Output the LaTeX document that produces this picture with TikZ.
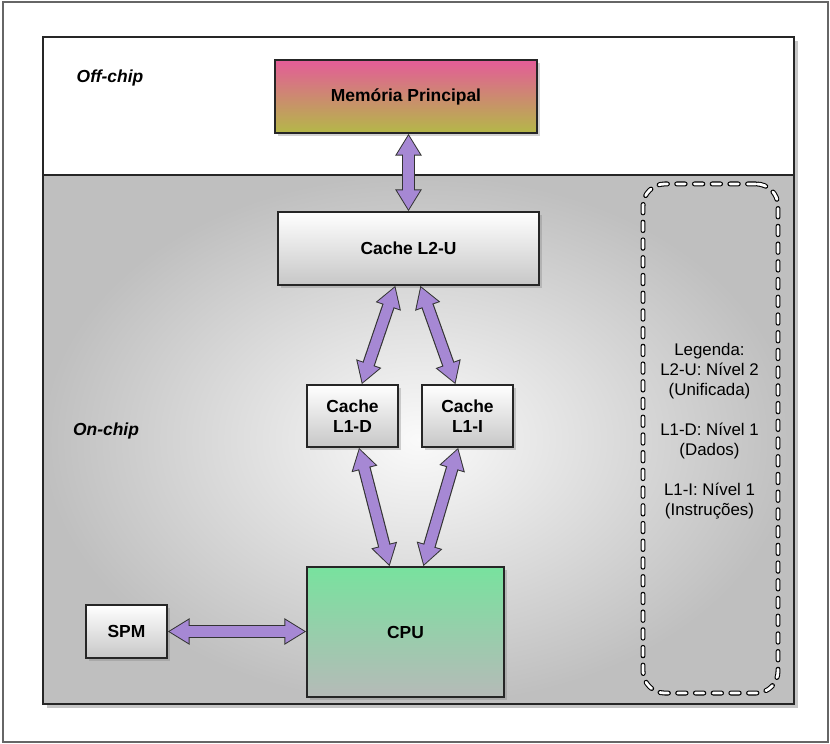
\documentclass[tikz,border=0pt]{standalone}
\usepackage{fontspec}
\setmainfont{Liberation Sans}
\usetikzlibrary{calc,shadows,arrows.meta}

\definecolor{busfill}{RGB}{166,136,212}
\definecolor{memtop}{RGB}{228,92,152}
\definecolor{membot}{RGB}{180,184,72}
\definecolor{cputop}{RGB}{120,226,158}
\definecolor{cpubot}{RGB}{182,186,184}

\begin{document}
\begin{tikzpicture}[x=0.025cm, y=-0.025cm,
    region/.style={draw=black!85, line width=1pt,
        drop shadow={opacity=0.45, shadow xshift=2.5pt, shadow yshift=-2.5pt}},
    unit/.style={draw=black!85, line width=0.9pt, align=center, inner sep=0pt,
        font=\bfseries\fontsize{12.4}{14.2}\selectfont,
        drop shadow={opacity=0.35, shadow xshift=2pt, shadow yshift=-2pt}},
    cache/.style={unit, top color=white, bottom color=black!22},
    tag/.style={font=\bfseries\itshape\fontsize{12.4}{14}\selectfont},
    bus/.style={line width=7.4pt, draw=busfill, shorten <=1.3pt, shorten >=1.3pt,
        {Triangle[width=15.4pt,length=13.6pt]}-{Triangle[width=15.4pt,length=13.6pt]},
        preaction={draw=black!80, line width=9pt, shorten <=0pt, shorten >=0pt,
        {Triangle[width=17.8pt,length=15.6pt]}-{Triangle[width=17.8pt,length=15.6pt]}}}]

\useasboundingbox (0,0) rectangle (830,744);
\draw[black!60, line width=0.8pt] (3,2) rectangle (828,742);

% chip regions
\draw[region, fill=white] (43,37) rectangle (794,175);
\draw[region, inner color=black!2, outer color=black!25] (43,175) rectangle (794,704);
\node[tag] (offchip) at (110,78) {Off-chip};
\node[tag] (onchip) at (106,431) {On-chip};

% memories and cpu
\node[unit, top color=memtop, bottom color=membot, minimum width=6.55cm, minimum height=1.825cm]
    (mem) at (406,96.5) {Memória Principal};
\node[cache, minimum width=6.525cm, minimum height=1.825cm] (l2) at (408.5,248.5) {Cache L2-U};
\node[cache, minimum width=2.275cm, minimum height=1.55cm] (l1d) at (352.5,416) {Cache\\L1-D};
\node[cache, minimum width=2.275cm, minimum height=1.55cm] (l1i) at (467.5,416) {Cache\\L1-I};
\node[unit, top color=cputop, bottom color=cpubot, minimum width=4.925cm, minimum height=3.25cm]
    (cpu) at (405.5,632) {CPU};
\node[cache, minimum width=2.025cm, minimum height=1.325cm] (spm) at (126.5,631.5) {SPM};

% legend
\node[draw=black, line width=0.75pt, double=white, double distance=2pt, line cap=round,
    dash pattern=on 6pt off 6.6pt, rounded corners=0.55cm, minimum width=3.375cm, minimum height=12.725cm]
    (legbox) at (710.5,438.5) {};
\node[align=center, font=\fontsize{12}{14.2}\selectfont] (legtxt) at (709.5,431)
    {Legenda:\\L2-U: Nível 2\\(Unificada)\\[14.2pt]L1-D: Nível 1\\(Dados)\\[14.2pt]L1-I: Nível 1\\(Instruções)};

% buses
\draw[bus] (l2.north |- mem.south) -- (l2.north);
\draw[bus] ($(l2.south west)!.45!(l2.south east)$) -- ($(l1d.north west)!.6!(l1d.north east)$);
\draw[bus] ($(l2.south west)!.545!(l2.south east)$) -- ($(l1i.north west)!.37!(l1i.north east)$);
\draw[bus] ($(l1d.south west)!.57!(l1d.south east)$) -- ($(cpu.north west)!.42!(cpu.north east)$);
\draw[bus] ($(l1i.south west)!.4!(l1i.south east)$) -- ($(cpu.north west)!.59!(cpu.north east)$);
\draw[bus] (spm.east) -- (cpu.west |- spm.east);

\end{tikzpicture}
\end{document}
